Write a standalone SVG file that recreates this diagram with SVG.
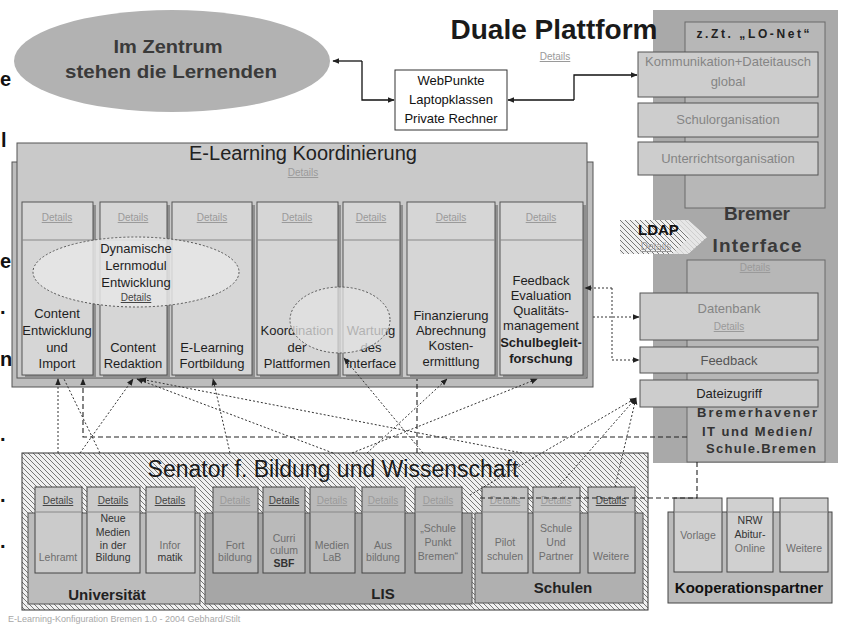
<svg xmlns="http://www.w3.org/2000/svg" width="842" height="626" viewBox="0 0 842 626">
<defs>
<style>
text{font-family:"Liberation Sans",Arial,sans-serif}
.m{text-anchor:middle}
.b{font-weight:bold}
.det{font-size:10px;fill:#9a9a9a;text-decoration:underline;text-anchor:middle}
.detd{font-size:10px;fill:#444;text-decoration:underline;text-anchor:middle}
.col{font-size:13px;fill:#1e1e1e;text-anchor:middle}
.crd{font-size:10.5px;fill:#6e6e6e;text-anchor:middle}
.crdd{font-size:10.5px;fill:#333;text-anchor:middle}
.sub{font-size:13px;fill:#858585;text-anchor:middle}
.pnl{fill:#a9a9a9}
.inn{fill:#b7b7b7;stroke:#6a6a6a;stroke-width:1}
.sbx{fill:#cdcdcd;stroke:#555;stroke-width:1}
.elc{fill:#d6d6d6;stroke:#555;stroke-width:1}
.shd{fill:#8f8f8f}
.hdr{stroke:#888;stroke-width:1}
.cu{fill:#cbcbcb;stroke:#444;stroke-width:1}
.cl{fill:#bababa;stroke:#444;stroke-width:1}
.cs{fill:#c4c4c4;stroke:#444;stroke-width:1}
.dot{fill:none;stroke:#333;stroke-width:1;stroke-dasharray:2 2}
.dsh{fill:none;stroke:#222;stroke-width:1.1;stroke-dasharray:5 3}
.sol{fill:none;stroke:#111;stroke-width:1.3}
.mg{font-size:20px;font-weight:bold;fill:#111}
</style>
<pattern id="hatch" width="5" height="5" patternUnits="userSpaceOnUse">
<rect width="5" height="5" fill="#f0f0f0"/>
<path d="M0,0 L5,5 M-1,4 L1,6 M4,-1 L6,1" stroke="#444" stroke-width="0.7"/>
</pattern>
<marker id="ah" viewBox="0 0 10 10" refX="9" refY="5" markerWidth="7" markerHeight="7" markerUnits="userSpaceOnUse" orient="auto-start-reverse"><path d="M0,1 L10,5 L0,9 z" fill="#222"/></marker>
</defs>
<rect width="842" height="626" fill="#fff"/>

<g id="margin-fragments">
<text class="mg" x="0" y="86">e</text>
<text class="mg" x="1" y="147">l</text>
<text class="mg" x="0" y="268">e</text>
<text class="mg" x="0" y="314">.</text>
<text class="mg" x="0" y="366">n</text>
<text class="mg" x="0" y="441">.</text>
<text class="mg" x="0" y="502">.</text>
<text class="mg" x="0" y="548">.</text>
</g>

<g id="zentrum">
<ellipse cx="172" cy="61" rx="158" ry="51" fill="#b2b2b2"/>
<text class="m b" x="168" y="53" font-size="18" fill="#3a3a3a" textLength="109" lengthAdjust="spacingAndGlyphs">Im Zentrum</text>
<text class="m b" x="171" y="78" font-size="18" fill="#3a3a3a" textLength="212" lengthAdjust="spacingAndGlyphs">stehen die Lernenden</text>
</g>

<g id="webpunkte">
<rect x="395" y="70" width="112" height="60" fill="#fff" stroke="#333"/>
<text class="m" x="451" y="85" font-size="13" fill="#111">WebPunkte</text>
<text class="m" x="451" y="104" font-size="13" fill="#111">Laptopklassen</text>
<text class="m" x="451" y="123" font-size="13" fill="#111">Private Rechner</text>
</g>

<g id="duale-plattform">
<rect class="pnl" x="653" y="10" width="185" height="453"/>
<text class="m b" x="554" y="39" font-size="28" fill="#1a1a1a">Duale Plattform</text>
<text class="det" x="555" y="60">Details</text>
</g>

<g id="lo-net">
<rect class="inn" x="685" y="22" width="140" height="186"/>
<text class="m b" x="753" y="38" font-size="12" fill="#222" textLength="113" lengthAdjust="spacing">z.Zt. „LO-Net“</text>
</g>
<g id="kommunikation">
<rect class="sbx" x="638" y="52" width="180" height="45"/>
<text class="sub" x="728" y="66">Kommunikation+Dateitausch</text>
<text class="sub" x="728" y="86">global</text>
</g>
<g id="schulorganisation">
<rect class="sbx" x="638" y="103" width="180" height="34"/>
<text class="sub" x="728" y="124">Schulorganisation</text>
</g>
<g id="unterrichtsorganisation">
<rect class="sbx" x="638" y="142" width="180" height="33"/>
<text class="sub" x="728" y="163">Unterrichtsorganisation</text>
</g>

<g id="bremer-interface">
<text class="m b" x="757" y="220" font-size="19" fill="#3a3a3a" textLength="66" lengthAdjust="spacing">Bremer</text>
<text class="m b" x="757" y="252" font-size="19" fill="#3a3a3a" textLength="89" lengthAdjust="spacing">Interface</text>
<rect class="inn" x="687" y="260" width="138" height="202"/>
<text class="det" x="755" y="271">Details</text>
<text class="m b" x="757" y="417" font-size="13" fill="#333" textLength="120" lengthAdjust="spacing">Bremerhavener</text>
<text class="m b" x="757" y="436" font-size="13" fill="#333" textLength="110" lengthAdjust="spacing">IT und Medien/</text>
<text class="m b" x="761" y="453" font-size="13" fill="#333" textLength="110" lengthAdjust="spacing">Schule.Bremen</text>
</g>
<g id="datenbank">
<rect class="sbx" x="640" y="293" width="178" height="47"/>
<text class="sub" x="729" y="313" font-size="12">Datenbank</text>
<text class="det" x="729" y="330">Details</text>
</g>
<g id="feedback-box">
<rect class="sbx" x="640" y="347" width="178" height="26"/>
<text class="m" x="729" y="365" font-size="13" fill="#555">Feedback</text>
</g>
<g id="dateizugriff">
<rect class="sbx" x="640" y="380" width="178" height="27"/>
<text class="m" x="729" y="398" font-size="13" fill="#222">Dateizugriff</text>
</g>

<g id="ldap">
<polygon points="620,220 688,220 707,237 688,254 620,254" fill="url(#hatch)"/>
<polygon points="672,220 688,220 707,237 688,254 672,254 690,237" fill="#e4e4e4" opacity="0.8"/>
<text class="b" x="638" y="235" font-size="15" fill="#111">LDAP</text>
<text class="det" x="656" y="250">Details</text>
</g>

<g id="e-learning">
<rect x="12" y="162" width="581" height="225" fill="#bdbdbd" stroke="#555"/>
<rect x="17" y="143" width="570" height="235" fill="#c9c9c9" stroke="#555"/>
<text class="m" x="303" y="160" font-size="20" fill="#222">E-Learning Koordinierung</text>
<text class="det" x="303" y="176">Details</text>
</g>

<g id="col-content-entwicklung">
<rect class="shd" x="25" y="205" width="71" height="173"/>
<rect class="elc" x="22" y="202" width="71" height="173"/>
<line class="hdr" x1="22" y1="240" x2="93" y2="240"/>
<text class="det" x="57" y="221">Details</text>
<text class="col" x="57" y="318">Content</text>
<text class="col" x="57" y="335">Entwicklung</text>
<text class="col" x="57" y="352">und</text>
<text class="col" x="57" y="368">Import</text>
</g>
<g id="col-content-redaktion">
<rect class="shd" x="103" y="205" width="67" height="173"/>
<rect class="elc" x="100" y="202" width="67" height="173"/>
<line class="hdr" x1="100" y1="240" x2="167" y2="240"/>
<text class="det" x="133" y="221">Details</text>
<text class="col" x="133" y="352">Content</text>
<text class="col" x="133" y="368">Redaktion</text>
</g>
<g id="col-fortbildung">
<rect class="shd" x="175" y="205" width="80" height="173"/>
<rect class="elc" x="172" y="202" width="80" height="173"/>
<line class="hdr" x1="172" y1="240" x2="252" y2="240"/>
<text class="det" x="212" y="221">Details</text>
<text class="col" x="212" y="352">E-Learning</text>
<text class="col" x="212" y="368">Fortbildung</text>
</g>
<g id="col-koordination">
<rect class="shd" x="260" y="205" width="81" height="173"/>
<rect class="elc" x="257" y="202" width="81" height="173"/>
<line class="hdr" x1="257" y1="240" x2="338" y2="240"/>
<text class="det" x="297" y="221">Details</text>
<text class="col" x="297" y="335">Koordination</text>
<text class="col" x="297" y="352">der</text>
<text class="col" x="297" y="368">Plattformen</text>
</g>
<g id="col-wartung">
<rect class="shd" x="346" y="205" width="57" height="173"/>
<rect class="elc" x="343" y="202" width="57" height="173"/>
<line class="hdr" x1="343" y1="240" x2="400" y2="240"/>
<text class="det" x="371" y="221">Details</text>
<text class="col" x="371" y="335">Wartung</text>
<text class="col" x="371" y="352">des</text>
<text class="col" x="371" y="368">Interface</text>
</g>
<g id="col-finanzierung">
<rect class="shd" x="410" y="205" width="88" height="173"/>
<rect class="elc" x="407" y="202" width="88" height="173"/>
<line class="hdr" x1="407" y1="240" x2="495" y2="240"/>
<text class="det" x="451" y="221">Details</text>
<text class="col" x="451" y="320">Finanzierung</text>
<text class="col" x="451" y="335">Abrechnung</text>
<text class="col" x="451" y="350">Kosten-</text>
<text class="col" x="451" y="366">ermittlung</text>
</g>
<g id="col-feedback">
<rect class="shd" x="503" y="205" width="83" height="173"/>
<rect class="elc" x="500" y="202" width="83" height="173"/>
<line class="hdr" x1="500" y1="240" x2="583" y2="240"/>
<text class="det" x="541" y="221">Details</text>
<text class="col" x="541" y="285">Feedback</text>
<text class="col" x="541" y="300">Evaluation</text>
<text class="col" x="541" y="315">Qualitäts-</text>
<text class="col" x="541" y="330">management</text>
<text class="col b" x="541" y="347">Schulbegleit-</text>
<text class="col b" x="541" y="363">forschung</text>
</g>

<g id="lernmodul">
<ellipse cx="136" cy="272" rx="103" ry="35" fill="#e6e6e6" fill-opacity="0.85" stroke="#555" stroke-dasharray="2 2"/>
<text class="col" x="136" y="253">Dynamische</text>
<text class="col" x="136" y="270">Lernmodul</text>
<text class="col" x="136" y="287">Entwicklung</text>
<text class="detd" x="136" y="301">Details</text>
</g>
<g id="plattform-kreis">
<ellipse cx="340" cy="320" rx="50" ry="33" fill="#e2e2e2" fill-opacity="0.75" stroke="#555" stroke-dasharray="2 2"/>
</g>

<g id="senator">
<rect x="22" y="453" width="626" height="157" fill="url(#hatch)" stroke="#333"/>
<text class="m" x="333" y="477" font-size="23" fill="#1a1a1a">Senator f. Bildung und Wissenschaft</text>
</g>

<g id="universitaet">
<rect x="28" y="513" width="172" height="91" fill="#bcbcbc" stroke="#555"/>
<text class="m b" x="107" y="600" font-size="15" fill="#222">Universität</text>
</g>
<g id="lis">
<rect x="205" y="513" width="267" height="91" fill="#a6a6a6" stroke="#555"/>
<text class="m b" x="383" y="599" font-size="15" fill="#222">LIS</text>
</g>
<g id="schulen">
<rect x="475" y="513" width="168" height="90" fill="#b0b0b0" stroke="#555"/>
<text class="m b" x="563" y="593" font-size="15" fill="#222">Schulen</text>
</g>

<g id="card-lehramt">
<rect class="cu" x="35" y="487" width="47" height="86"/><line class="hdr" x1="35" y1="512" x2="82" y2="512"/>
<text class="detd" x="58" y="504">Details</text>
<text class="crd" x="58" y="561">Lehramt</text>
</g>
<g id="card-neue-medien">
<rect class="cu" x="87" y="487" width="53" height="86"/><line class="hdr" x1="87" y1="512" x2="140" y2="512"/>
<text class="detd" x="113" y="504">Details</text>
<text class="crdd" x="113" y="522">Neue</text>
<text class="crdd" x="113" y="536">Medien</text>
<text class="crdd" x="113" y="549">in der</text>
<text class="crdd" x="113" y="561">Bildung</text>
</g>
<g id="card-informatik">
<rect class="cu" x="146" y="487" width="49" height="86"/><line class="hdr" x1="146" y1="512" x2="195" y2="512"/>
<text class="detd" x="170" y="504">Details</text>
<text class="crd" x="170" y="549">Infor</text>
<text class="crdd" x="170" y="561">matik</text>
</g>
<g id="card-fortbildung">
<rect class="cl" x="213" y="487" width="45" height="86"/><line class="hdr" x1="213" y1="512" x2="258" y2="512"/>
<text class="det" x="235" y="504">Details</text>
<text class="crd" x="235" y="549">Fort</text>
<text class="crd" x="235" y="561">bildung</text>
</g>
<g id="card-curriculum">
<rect class="cl" x="263" y="487" width="42" height="86"/><line class="hdr" x1="263" y1="512" x2="305" y2="512"/>
<text class="detd" x="284" y="504">Details</text>
<text class="crd" x="284" y="542">Curri</text>
<text class="crd" x="284" y="554">culum</text>
<text class="crdd b" x="284" y="567">SBF</text>
</g>
<g id="card-medienlab">
<rect class="cl" x="310" y="487" width="45" height="86"/><line class="hdr" x1="310" y1="512" x2="355" y2="512"/>
<text class="det" x="332" y="504">Details</text>
<text class="crd" x="332" y="549">Medien</text>
<text class="crd" x="332" y="561">LaB</text>
</g>
<g id="card-ausbildung">
<rect class="cl" x="362" y="487" width="43" height="86"/><line class="hdr" x1="362" y1="512" x2="405" y2="512"/>
<text class="det" x="383" y="504">Details</text>
<text class="crd" x="383" y="549">Aus</text>
<text class="crd" x="383" y="561">bildung</text>
</g>
<g id="card-schule-punkt">
<rect class="cl" x="415" y="487" width="47" height="86"/><line class="hdr" x1="415" y1="512" x2="462" y2="512"/>
<text class="det" x="438" y="504">Details</text>
<text class="crd" x="438" y="532">„Schule</text>
<text class="crd" x="438" y="546">Punkt</text>
<text class="crd" x="438" y="560">Bremen“</text>
</g>
<g id="card-pilotschulen">
<rect class="cs" x="482" y="487" width="46" height="86"/><line class="hdr" x1="482" y1="512" x2="528" y2="512"/>
<text class="det" x="505" y="504">Details</text>
<text class="crd" x="505" y="546">Pilot</text>
<text class="crd" x="505" y="560">schulen</text>
</g>
<g id="card-schule-partner">
<rect class="cs" x="533" y="487" width="47" height="86"/><line class="hdr" x1="533" y1="512" x2="580" y2="512"/>
<text class="det" x="556" y="504">Details</text>
<text class="crd" x="556" y="532">Schule</text>
<text class="crd" x="556" y="546">Und</text>
<text class="crd" x="556" y="560">Partner</text>
</g>
<g id="card-weitere-schulen">
<rect class="cs" x="588" y="487" width="47" height="86"/><line class="hdr" x1="588" y1="512" x2="635" y2="512"/>
<text class="detd" x="611" y="504">Details</text>
<text class="crd" x="611" y="560">Weitere</text>
</g>

<g id="kooperationspartner">
<rect x="668" y="512" width="164" height="91" fill="#bbbbbb" stroke="#444"/>
<text class="m b" x="749" y="593" font-size="15" fill="#111">Kooperationspartner</text>
</g>
<g id="card-vorlage">
<rect x="674" y="498" width="48" height="74" fill="#d0d0d0" stroke="#444"/><line class="hdr" x1="674" y1="512" x2="722" y2="512"/>
<text class="crd" x="698" y="539">Vorlage</text>
</g>
<g id="card-nrw">
<rect x="727" y="498" width="46" height="74" fill="#d0d0d0" stroke="#444"/><line class="hdr" x1="727" y1="512" x2="773" y2="512"/>
<text class="crdd" x="750" y="524">NRW</text>
<text class="crdd" x="750" y="538">Abitur-</text>
<text class="crd" x="750" y="552">Online</text>
</g>
<g id="card-weitere-koop">
<rect x="780" y="498" width="48" height="74" fill="#d0d0d0" stroke="#444"/><line class="hdr" x1="780" y1="512" x2="828" y2="512"/>
<text class="crd" x="804" y="552">Weitere</text>
</g>

<g id="connectors">
<path class="sol" d="M362,61 H333" marker-end="url(#ah)"/>
<path class="sol" d="M362,61 V100 H394" marker-end="url(#ah)"/>
<path class="sol" d="M574,100 H508" marker-end="url(#ah)"/>
<path class="sol" d="M574,100 V75 H637" marker-end="url(#ah)"/>
<path class="dot" d="M58,453 V379" marker-end="url(#ah)"/>
<path class="dsh" d="M687,437 H83 V379" marker-end="url(#ah)"/>
<path class="dot" d="M100,453 L64,379"/>
<path class="dot" d="M80,453 L133,379" marker-end="url(#ah)"/>
<path class="dot" d="M333,453 L137,379" marker-end="url(#ah)"/>
<path class="dot" d="M522,453 L140,379" marker-end="url(#ah)"/>
<path class="dot" d="M230,453 L213,379" marker-end="url(#ah)"/>
<path class="dot" d="M423,453 L344,358" marker-end="url(#ah)"/>
<path class="dot" d="M367,453 L447,379" marker-end="url(#ah)"/>
<path class="dot" d="M352,453 L537,379" marker-end="url(#ah)"/>
<path class="dsh" d="M417,453 V379"/>
<path class="dot" d="M470,495 L636,398" marker-end="url(#ah)"/>
<path class="dot" d="M558,487 L636,398" marker-end="url(#ah)"/>
<path class="dot" d="M615,487 L636,398" marker-end="url(#ah)"/>
<path class="dot" d="M612,288 H585" marker-end="url(#ah)"/>
<path class="dot" d="M612,288 V360 H639" marker-end="url(#ah)"/>
<path class="dot" d="M593,317 H639" marker-end="url(#ah)"/>
<path class="dsh" d="M697,462 V498 H477"/>
</g>

<text x="8" y="622" font-size="9" fill="#a8a8a8">E-Learning-Konfiguration Bremen 1.0 - 2004 Gebhard/Stilt</text>
</svg>
